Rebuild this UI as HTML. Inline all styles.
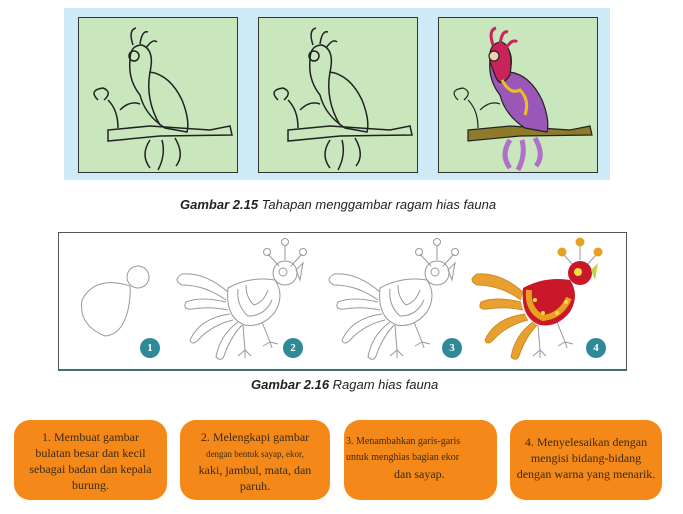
<!DOCTYPE html>
<html><head><meta charset="utf-8"><style>
body{margin:0;width:683px;height:514px;background:#fff;position:relative;overflow:hidden;font-family:"Liberation Sans",sans-serif}
.a{position:absolute}
.sq{position:absolute;top:17px;width:158px;height:154px;background:#c9e6bd;border:1px solid #333}
.cap{position:absolute;font-size:13px;color:#222;font-style:italic;white-space:nowrap}
.box{position:absolute;top:420px;height:80px;background:#f4891a;border-radius:16px;font-family:"Liberation Serif",serif;font-size:12px;color:#3a2a10;text-align:center;line-height:16px;box-sizing:border-box;padding-top:9px}
.num{position:absolute;width:20px;height:20px;border-radius:50%;background:#2f8a98;color:#fff;font:bold 11px "Liberation Serif",serif;text-align:center;line-height:20px;top:338px}
</style></head><body>
<div class="a" style="left:64px;top:8px;width:546px;height:172px;background:#cdeaf6"></div>
<div class="sq" style="left:78px"></div>
<div class="sq" style="left:258px"></div>
<div class="sq" style="left:438px"></div>
<svg class="a" style="left:0;top:0" width="683" height="200">
<defs>
<g id="b1" fill="none" stroke="#222" stroke-width="1.5">
 <path d="M108 130 L150 126 L210 130 L230 126 L232 135 L160 136 L108 141Z"/>
 <path d="M140 95 Q128 80 130 60 Q130 45 142 45 Q155 50 150 72 Q170 75 182 100 Q190 120 187 132 L165 128 Q145 115 140 95Z"/>
 <path d="M150 72 Q145 100 160 125"/>
 <path d="M150 140 Q140 155 150 168 M162 140 Q166 155 158 170 M175 138 Q185 155 176 166"/>
 <path d="M98 100 Q88 90 103 88 Q113 92 104 100 M108 100 Q118 110 118 128 M120 110 Q130 100 140 104"/>
 <path d="M133 45 Q128 30 136 28 M140 44 Q142 30 148 32 M146 48 Q153 38 157 42"/>
 <circle cx="134" cy="56" r="5"/>
</g>
</defs>
<use href="#b1"/>
<use href="#b1" x="180"/>
<g stroke="#222" stroke-width="1.2">
 <path d="M468 130 L510 126 L570 130 L590 126 L592 135 L520 136 L468 141Z" fill="#8d7b2a"/>
 <path d="M500 95 Q488 80 490 60 Q490 45 502 45 Q515 50 510 72 Q530 75 542 100 Q550 120 547 132 L525 128 Q505 115 500 95Z" fill="#9b57b8"/>
 <path d="M490 62 Q488 42 502 42 Q514 48 510 75 Q500 90 495 75Z" fill="#c8245a"/>
 <path d="M502 80 Q510 95 520 90 Q530 100 525 115" fill="none" stroke="#e8c020" stroke-width="3"/>
 <path d="M510 140 Q500 155 510 168 M522 140 Q526 155 518 170 M535 138 Q545 155 536 166" fill="none" stroke="#b070c8" stroke-width="5"/>
 <path d="M493 45 Q488 30 496 28 M500 44 Q502 30 508 32 M506 48 Q513 38 517 42" fill="none" stroke="#c8245a" stroke-width="3"/>
 <path d="M458 100 Q448 90 463 88 Q473 92 464 100 M468 100 Q478 110 478 128 M480 110 Q490 100 500 104" fill="none"/>
 <circle cx="494" cy="56" r="5" fill="#f0d0b0"/>
</g>
</svg>
<div class="cap" style="left:180px;top:197px"><b>Gambar 2.15</b> Tahapan menggambar ragam hias fauna</div>

<div class="a" style="left:58px;top:232px;width:567px;height:136px;border:1px solid #555;border-bottom:2px solid #3d6f78"></div>
<svg class="a" style="left:0;top:0" width="683" height="372">
<defs>
<path id="body" d="M228 288 Q250 276 275 280 Q285 295 275 312 Q262 328 245 325 Q225 318 228 288Z"/>
<path id="feath" d="M228 292 Q205 272 182 274 Q172 280 182 285 Q205 285 226 300 M226 302 Q200 296 186 302 Q182 310 192 309 Q210 306 228 310 M230 314 Q200 318 190 340 Q192 346 198 340 Q212 325 233 320 M238 322 Q220 335 216 357 Q221 362 224 356 Q230 338 242 325"/>
<g id="legs" fill="none" stroke="#999" stroke-width="1">
 <path d="M243 325 L245 350 M245 350 L238 356 M245 350 L245 358 M245 350 L251 356 M262 322 L270 342 M270 342 L263 346 M270 342 L272 348 M270 342 L278 344"/>
 <path d="M279 266 L268 254 M285 260 L285 245 M291 266 L302 254"/>
</g>
<g id="p2" fill="none" stroke="#999" stroke-width="1">
  <circle cx="285" cy="273" r="12"/><circle cx="283" cy="272" r="4"/>
  <path d="M296 270 L303 263 L300 280 Z"/>
  <circle cx="267" cy="252" r="3.5"/><circle cx="285" cy="242" r="3.5"/><circle cx="303" cy="252" r="3.5"/>
  <use href="#body"/>
  <path d="M238 289 Q236 305 248 316 Q265 316 272 300 M246 285 Q246 298 254 305 Q264 302 268 290"/>
  <use href="#feath"/>
  <use href="#legs"/>
</g>
</defs>
<g fill="none" stroke="#999" stroke-width="1">
 <circle cx="138" cy="277" r="11"/>
 <path d="M130 286 Q95 275 82 300 Q78 325 105 336 Q122 335 128 310 Q131 295 130 286"/>
</g>
<use href="#p2"/>
<use href="#p2" x="152"/>
<g transform="translate(295,0)">
 <use href="#legs"/>
 <use href="#feath" fill="#e8a030" stroke="#d08a20"/>
 <circle cx="267" cy="252" r="4.5" fill="#e8a020"/><circle cx="285" cy="242" r="4.5" fill="#e8a020"/><circle cx="303" cy="252" r="4.5" fill="#e8a020"/>
 <use href="#body" fill="#c8182a"/>
 <path d="M234 290 Q232 310 248 318 Q266 316 274 298" fill="none" stroke="#e8a020" stroke-width="6"/>
 <circle cx="240" cy="300" r="2" fill="#f0e040"/><circle cx="248" cy="313" r="2" fill="#f0e040"/><circle cx="262" cy="313" r="2" fill="#f0e040"/><circle cx="271" cy="302" r="2" fill="#f0e040"/>
 <circle cx="285" cy="273" r="12" fill="#c8182a"/>
 <circle cx="283" cy="272" r="4" fill="#f0e040"/>
 <path d="M296 270 L303 263 L300 280 Z" fill="#c8d040"/>
</g>
</svg>
<div class="num" style="left:140px">1</div>
<div class="num" style="left:283px">2</div>
<div class="num" style="left:442px">3</div>
<div class="num" style="left:586px">4</div>
<div class="cap" style="left:251px;top:377px"><b>Gambar 2.16</b> Ragam hias fauna</div>

<div class="box" style="left:14px;width:153px">1. Membuat gambar<br>bulatan besar dan kecil<br>sebagai badan dan kepala<br>burung.</div>
<div class="box" style="left:180px;width:150px">2. Melengkapi gambar<br><span style="font-size:9px">dengan bentuk sayap, ekor,</span><br>kaki, jambul, mata, dan<br>paruh.</div>
<div class="box" style="left:344px;width:153px;text-align:left;padding-left:2px;font-size:10px;padding-top:14px">3. Menambahkan garis-garis<br>untuk menghias bagian ekor<br><span style="padding-left:48px;font-size:12px">dan sayap.</span></div>
<div class="box" style="left:510px;width:152px;padding-top:14px">4. Menyelesaikan dengan<br>mengisi bidang-bidang<br>dengan warna yang menarik.</div>
</body></html>
